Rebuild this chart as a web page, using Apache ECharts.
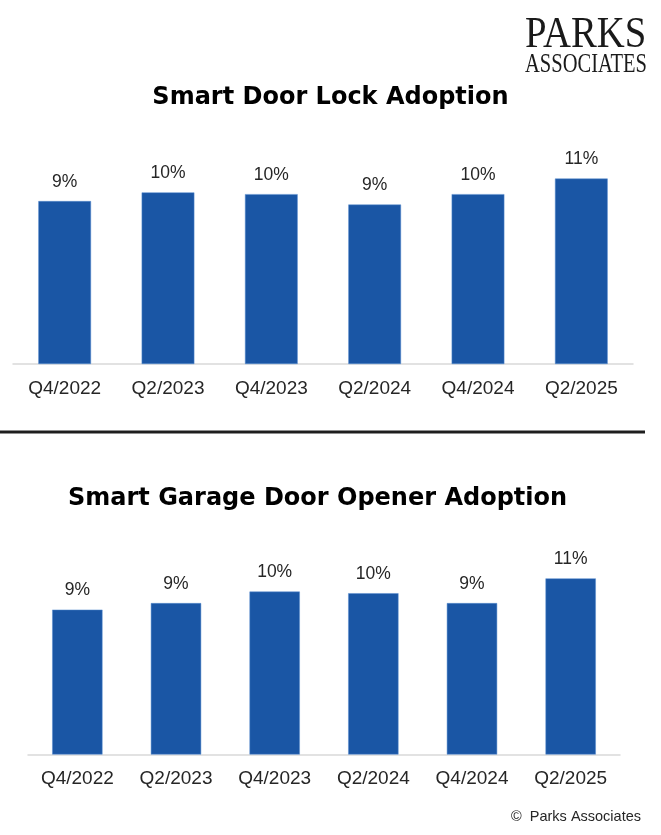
<!DOCTYPE html>
<html>
<head>
<meta charset="utf-8">
<script src="https://cdn.jsdelivr.net/npm/echarts@6/dist/echarts.min.js"></script>
<style>
html,body{margin:0;padding:0;background:#fff;}
#chart{width:661px;height:835px;}
</style>
</head>
<body>
<div id="chart"></div>
<script>
const categories = ['Q4/2022','Q2/2023','Q4/2023','Q2/2024','Q4/2024','Q2/2025'];
const doorLockValues = [9.4, 9.9, 9.8, 9.2, 9.8, 10.7];
const garageOpenerValues = [8.8, 9.2, 9.9, 9.8, 9.2, 10.7];
const titleTop = 'Smart Door Lock Adoption';
const titleBottom = 'Smart Garage Door Opener Adoption';

const BAR = '#1a56a5';
const labelFont = 'Liberation Sans, Arial, sans-serif';
const titleStyle = {fontFamily:'DejaVu Sans, sans-serif', fontWeight:'bold', fontSize:24, color:'#000'};

function xAxis(gi){
  return {
    type:'category', gridIndex:gi, data:categories,
    axisLine:{lineStyle:{color:'#d9d9d9', width:1.5}},
    axisTick:{show:false},
    axisLabel:{color:'#262626', fontSize:19, fontFamily:labelFont, margin:15}
  };
}
function yAxis(gi){
  return {type:'value', gridIndex:gi, min:0, max:12, show:false, splitLine:{show:false}};
}
function bar(gi, data){
  return {
    type:'bar', xAxisIndex:gi, yAxisIndex:gi, data:data, barWidth:'51%',
    itemStyle:{color:BAR, borderColor:'#5b8fd0', borderWidth:0.5},
    label:{show:true, position:'top', distance:10, color:'#262626', fontSize:17.5, fontFamily:labelFont,
      formatter:p=>Math.round(p.value)+'%'}
  };
}

const chart = echarts.init(document.getElementById('chart'), null, {renderer:'canvas'});
chart.setOption({
  animation:false,
  backgroundColor:'#fff',
  title:[
    {text:titleTop, left:'center', top:81, textStyle:titleStyle},
    {text:titleBottom, left:63, top:482, textStyle:titleStyle}
  ],
  grid:[
    {left:13, right:28, top:156, height:208},
    {left:28, right:41, top:557, height:197.5}
  ],
  xAxis:[xAxis(0), xAxis(1)],
  yAxis:[yAxis(0), yAxis(1)],
  series:[bar(0, doorLockValues), bar(1, garageOpenerValues)],
  graphic:[
    {type:'line', shape:{x1:0,y1:432,x2:645,y2:432}, style:{stroke:'#1e1e1e', lineWidth:3}},
    {type:'text', x:525, y:13, scaleX:0.88, style:{text:'PARKS', fontFamily:'Liberation Serif, Times New Roman, serif', fontSize:44, fill:'#1a1a1a', textVerticalAlign:'top'}},
    {type:'text', x:525, y:51, scaleX:0.76, style:{text:'ASSOCIATES', fontFamily:'Liberation Serif, Times New Roman, serif', fontSize:27, fill:'#1a1a1a', textVerticalAlign:'top'}},
    {type:'text', x:641, y:817, style:{text:'©  Parks Associates', fontFamily:labelFont, fontSize:14.5, fill:'#262626', textAlign:'right', textVerticalAlign:'middle'}}
  ]
});
</script>
</body>
</html>
